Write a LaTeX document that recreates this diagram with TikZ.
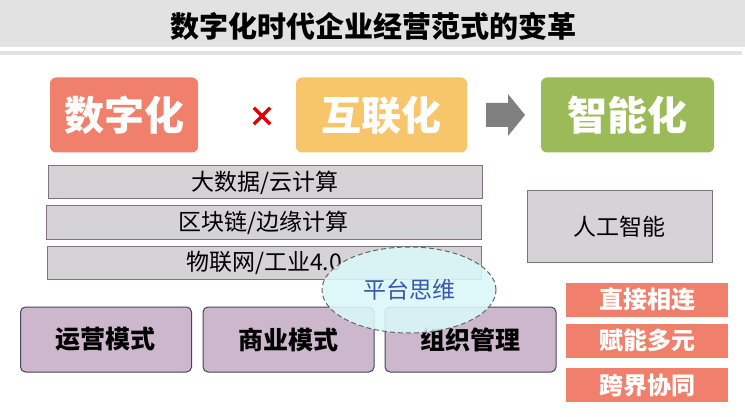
\documentclass[tikz,border=0pt]{standalone}
\usepackage{fontspec}
\newfontfamily\cjk{Noto Sans CJK SC}
\usetikzlibrary{shapes.geometric,shapes.misc}
\definecolor{salmon}{RGB}{240,128,108}
\definecolor{amber}{RGB}{248,198,106}
\definecolor{olive}{RGB}{155,187,89}
\definecolor{barfill}{RGB}{213,211,213}
\definecolor{barline}{RGB}{128,112,128}
\definecolor{lav}{RGB}{205,183,205}
\definecolor{lavline}{RGB}{70,70,90}
\definecolor{cyanf}{RGB}{218,248,250}
\definecolor{bandgray}{RGB}{226,226,226}
\definecolor{textblue}{RGB}{58,88,165}
\definecolor{arrgray}{RGB}{128,128,128}
\tikzset{
  bigbox/.style={rounded corners=6pt, minimum width=150pt, minimum height=75pt, font=\cjk\bfseries\fontsize{40}{42}\selectfont, text=white, inner sep=0pt},
  bar/.style={draw=barline, line width=1pt, fill=barfill, minimum height=33pt, inner sep=0pt, font=\cjk\fontsize{23}{25}\selectfont},
  purp/.style={draw=lavline, line width=1pt, fill=lav, rounded corners=5pt, minimum width=171pt, minimum height=65pt, inner sep=0pt, font=\cjk\bfseries\fontsize{25}{27}\selectfont},
  sbox/.style={fill=salmon, minimum width=162pt, minimum height=34pt, inner sep=0pt, text=white, font=\cjk\bfseries\fontsize{24}{26}\selectfont}
}
\begin{document}
\begin{tikzpicture}[x=1pt,y=-1pt]
\useasboundingbox (0,0) rectangle (745,417);
\fill[white] (0,0) rectangle (745,417);
% header
\fill[bandgray] (0,0) rectangle (745,47);
\fill[bandgray] (0,51) rectangle (742,55);
\node[font=\cjk\bfseries\fontsize{29}{31}\selectfont] (title) at (373,26) {数字化时代企业经营范式的变革};
% top boxes
\node[bigbox, fill=salmon, minimum width=148pt] (dig) at (124,115) {数字化};
\node[cross out, draw=red!90!black, line width=3.4pt, minimum size=13pt, inner sep=0pt] (times) at (262,116) {};
\node[bigbox, fill=amber, minimum width=171pt] (net) at (381.5,115) {互联化};
\fill[arrgray] (486,103) -- (508,103) -- (508,94) -- (525,115) -- (508,136) -- (508,127) -- (486,127) -- cycle;
\node[bigbox, fill=olive, minimum width=173pt] (intel) at (627.5,115) {智能化};
% gray bars
\node[bar, minimum width=434pt] (b1) at (265,182.5) {大数据/云计算};
\node[bar, minimum width=435pt] (b2) at (263.5,222.5) {区块链/边缘计算};
\node[bar, minimum width=434pt] (b3) at (264,262.5) {物联网/工业4.0};
\node[bar, minimum width=185pt, minimum height=71pt] (ai) at (619.5,226.5) {人工智能};
% purple boxes
\node[purp] (p1) at (106,339.5) {运营模式};
\node[purp] (p2) at (288.5,339.5) {商业模式};
\node[purp] (p3) at (470.5,339.5) {组织管理};
% ellipse
\node[ellipse, draw=gray!80!black, dash pattern=on 5pt off 3pt, line width=1pt, fill=cyanf, fill opacity=0.88, text opacity=1, minimum width=174pt, minimum height=86pt, inner sep=0pt, text=textblue, font=\cjk\fontsize{23}{25}\selectfont] (plat) at (409,290) {平台思维};
% right salmon boxes
\node[sbox] (s1) at (647,299.5) {直接相连};
\node[sbox] (s2) at (647,340.5) {赋能多元};
\node[sbox] (s3) at (647,385) {跨界协同};
\end{tikzpicture}
\end{document}
